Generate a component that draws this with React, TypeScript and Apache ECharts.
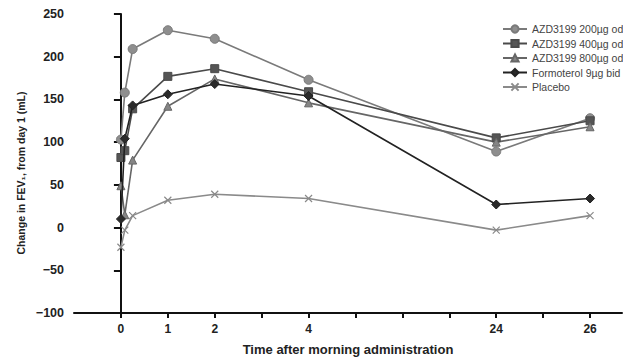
import React, { useEffect, useRef } from "react";
import * as echarts from "echarts";

// Time after morning administration (hours)
const times = [0, 0.083, 0.25, 1, 2, 4, 24, 26];
const seriesNames = [
  "AZD3199 200µg od",
  "AZD3199 400µg od",
  "AZD3199 800µg od",
  "Formoterol 9µg bid",
  "Placebo",
];
const azd200 = [103, 158, 209, 231, 221, 173, 89, 128];
const azd400 = [82, 90, 139, 177, 186, 159, 105, 125];
const azd800 = [49, 15, 79, 142, 174, 146, 100, 118];
const formoterol = [10, 104, 143, 156, 168, 154, 27, 34];
const placebo = [-23, -3, 14, 32, 39, 34, -3, 14];
const xTickLabels = ["0", "1", "2", "4", "24", "26"];
const yMin = -100;
const yMax = 250;
const yInterval = 50;
const yTitle = "Change in FEV₁, from day 1 (mL)";
const xTitle = "Time after morning administration";

// broken time axis: 0-4 h linear, 4-24 h compressed (1/5), 24-26 h linear
const toPos = (t: number) => (t <= 4 ? t : t <= 24 ? 4 + (t - 4) / 5 : 8 + (t - 24));

export default function App() {
  const ref = useRef<HTMLDivElement>(null);
  useEffect(() => {
    if (!ref.current) return;
    const chart = echarts.init(ref.current, null, { renderer: "svg" });
    const labelPos = xTickLabels.map((l) => toPos(Number(l)));
    const labelMap: Record<string, string> = {};
    labelPos.forEach((p, i) => (labelMap[String(p)] = xTickLabels[i]));
    const font = "Arial, 'Liberation Sans', sans-serif";
    const mk = (
      name: string,
      vals: number[],
      symbol: string,
      size: number,
      fill: string,
      line: string,
      extra: any = {}
    ) => ({
      type: "line",
      name,
      data: vals.map((v, i) => [toPos(times[i]), v]),
      symbol,
      symbolSize: size,
      showAllSymbol: true,
      lineStyle: { color: line, width: 1.6 },
      itemStyle: { color: fill, borderColor: line, borderWidth: 1, ...(extra.itemStyle || {}) },
      emphasis: { disabled: true },
      z: extra.z || 2,
    });
    chart.setOption({
      animation: false,
      backgroundColor: "#ffffff",
      grid: { left: 74, right: 1, top: 14, bottom: 45 },
      graphic: [
        {
          type: "text",
          x: 21,
          y: 173,
          rotation: Math.PI / 2,
          style: {
            text: yTitle,
            align: "center",
            verticalAlign: "middle",
            fontSize: 10.5,
            fontWeight: "bold",
            fontFamily: font,
            fill: "#222",
          },
        },
      ],
      legend: {
        orient: "vertical",
        left: 497,
        top: 18,
        itemWidth: 24,
        itemHeight: 9,
        itemGap: 2.5,
        textStyle: { fontSize: 10.5, color: "#444", fontFamily: font, lineHeight: 12 },
        data: seriesNames,
      },
      xAxis: {
        type: "value",
        min: -1,
        max: (622 - 120) / 47,
        interval: 1,
        name: xTitle,
        nameLocation: "middle",
        nameGap: 30,
        nameTextStyle: { fontSize: 13, fontWeight: "bold", color: "#222", fontFamily: font },
        splitLine: { show: false },
        axisLine: { onZero: false, lineStyle: { color: "#111", width: 2 } },
        axisTick: {
          length: 5,
          lineStyle: { color: "#111", width: 2 },
          customValues: [0, 1, 2, 3, 4, 5, 6, 7, 8, 9, 10],
        },
        axisLabel: {
          customValues: labelPos,
          formatter: (v: number) => labelMap[String(v)] ?? "",
          fontSize: 12,
          fontWeight: "bold",
          color: "#222",
          fontFamily: font,
          margin: 10,
        },
      },
      yAxis: {
        type: "value",
        min: yMin,
        max: yMax,
        interval: yInterval,
        splitLine: { show: false },
        axisLine: { show: true, lineStyle: { color: "#111", width: 2 } },
        axisTick: { show: true, length: 7, lineStyle: { color: "#111", width: 2 } },
        axisLabel: {
          fontSize: 12.5,
          fontWeight: "bold",
          color: "#222",
          fontFamily: font,
          margin: 10,
          formatter: (v: number) => (v < 0 ? "\u2212" + Math.abs(v) : String(v)),
        },
      },
      series: [
        mk(seriesNames[0], azd200, "circle", 9, "#8e8e8e", "#7a7a7a"),
        mk(seriesNames[1], azd400, "rect", 8, "#555555", "#4a4a4a"),
        mk(seriesNames[2], azd800, "triangle", 8, "#858585", "#666666"),
        mk(seriesNames[3], formoterol, "diamond", 9, "#2a2a2a", "#222222", { z: 3 }),
        mk(
          seriesNames[4],
          placebo,
          "path://M0,0L10,10M10,0L0,10",
          7,
          "rgba(0,0,0,0)",
          "#8a8a8a",
          { itemStyle: { color: "rgba(0,0,0,0)", borderColor: "#8a8a8a", borderWidth: 1.2 } }
        ),
      ],
    });
    return () => chart.dispose();
  }, []);
  return (
    <div
      ref={ref}
      style={{ position: "fixed", left: 0, top: 0, width: 623, height: 361, background: "#fff" }}
    />
  );
}
